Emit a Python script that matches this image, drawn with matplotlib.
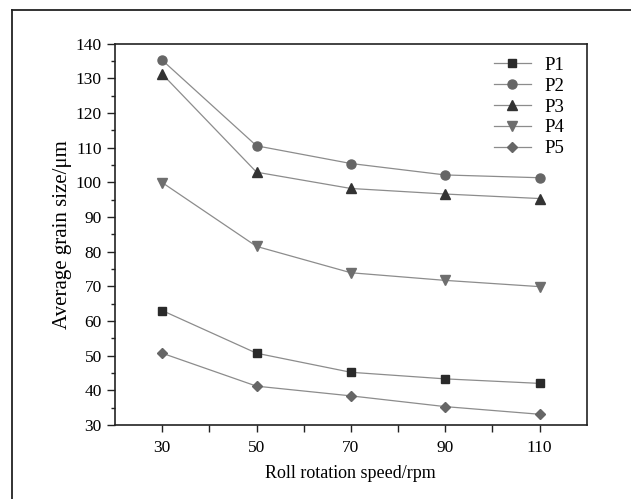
import numpy as np
import matplotlib
matplotlib.use("Agg")
import matplotlib.pyplot as plt
from matplotlib.lines import Line2D
from matplotlib.ticker import MultipleLocator, FixedLocator

# Data
speed = [30, 50, 70, 90, 110]
p1 = [63.0, 50.7, 45.2, 43.3, 42.0]
p2 = [135.2, 110.5, 105.4, 102.1, 101.3]
p3 = [131.2, 102.9, 98.2, 96.6, 95.3]
p4 = [99.9, 81.5, 73.9, 71.7, 69.9]
p5 = [50.7, 41.2, 38.4, 35.3, 33.1]
labels = ["P1", "P2", "P3", "P4", "P5"]

plt.rcParams['font.family'] = ['Liberation Serif', 'DejaVu Serif']

fig = plt.figure(figsize=(6.31, 4.99), dpi=100)
ax = fig.add_axes([0.1823, 0.1483, 0.7475, 0.7645])

styles = [
    ("s", "#2a2a2a", 5.5),
    ("o", "#666666", 6.5),
    ("^", "#333333", 7),
    ("v", "#6e6e6e", 7),
    ("D", "#666666", 5.5),
]
for ys, lab, (mk, col, ms) in zip([p1, p2, p3, p4, p5], labels, styles):
    ax.plot(speed, ys, color="#8c8c8c", lw=0.9, marker=mk, ms=ms,
            mfc=col, mec=col, label=lab)

ax.set_xlim(20, 120)
ax.set_ylim(30, 140)
ax.xaxis.set_major_locator(FixedLocator(speed))
ax.xaxis.set_minor_locator(FixedLocator([40, 60, 80, 100]))
ax.yaxis.set_major_locator(MultipleLocator(10))
ax.yaxis.set_minor_locator(MultipleLocator(5))
ax.tick_params(which="both", direction="out", width=1.0, labelsize=12.5, color="#222222")
ax.tick_params(axis="x", which="minor", length=5)
ax.tick_params(axis="x", which="major", length=5, pad=6)
ax.tick_params(axis="y", which="major", length=6)
ax.tick_params(axis="y", which="minor", length=3)
for s in ax.spines.values():
    s.set_linewidth(1.2)
    s.set_color("#222222")

ax.set_xlabel("Roll rotation speed/rpm", fontsize=13, labelpad=6)
ax.set_ylabel("Average grain size/μm", fontsize=15, labelpad=3)

ax.legend(loc="upper right", bbox_to_anchor=(0.98, 1.0), frameon=False,
          fontsize=13.5, handlelength=2.0, labelspacing=0.2,
          borderaxespad=0.3, handletextpad=0.7)

# outer frame (left and top edges only visible)
x0 = 12 / 631
y0 = 1 - 10 / 499
fig.add_artist(Line2D([x0, x0], [0, y0], color="#222222", lw=1.3))
fig.add_artist(Line2D([x0, 1], [y0, y0], color="#222222", lw=1.3))

fig.savefig("out.png", dpi=100)
